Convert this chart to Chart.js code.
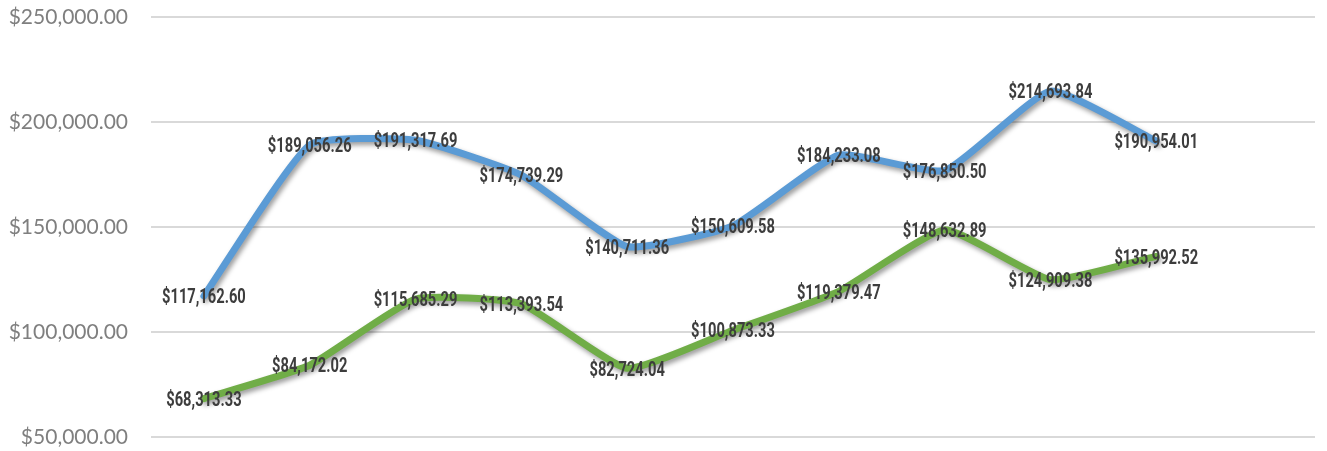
<!DOCTYPE html>
<html>
<head>
<meta charset="utf-8">
<script src="https://cdn.jsdelivr.net/npm/chart.js@4/dist/chart.umd.min.js"></script>
<style>
  html, body { margin: 0; padding: 0; background: #ffffff; }
  #wrap { width: 1327px; height: 451px; }
</style>
</head>
<body>
<div id="wrap"><canvas id="c" width="1327" height="451"></canvas></div>
<script>
// Periods on the horizontal axis (the last slot is left empty)
const periods = ['P1', 'P2', 'P3', 'P4', 'P5', 'P6', 'P7', 'P8', 'P9', 'P10', 'P11'];

// Upper series (blue)
const seriesA = [117162.60, 189056.26, 191317.69, 174739.29, 140711.36, 150609.58, 184233.08, 176850.50, 214693.84, 190954.01, null];

// Lower series (green)
const seriesB = [68313.33, 84172.02, 115685.29, 113393.54, 82724.04, 100873.33, 119379.47, 148632.89, 124909.38, 135992.52, null];

// Value axis ticks
const yTicks = [50000, 100000, 150000, 200000, 250000];

const money = v => '$' + v.toLocaleString('en-US', { minimumFractionDigits: 2, maximumFractionDigits: 2 });

// Soft drop shadow under each line
const lineShadow = {
  id: 'lineShadow',
  beforeDatasetDraw(chart) {
    const ctx = chart.ctx;
    ctx.save();
    ctx.shadowColor = 'rgba(0,0,0,0.4)';
    ctx.shadowBlur = 5;
    ctx.shadowOffsetX = 2;
    ctx.shadowOffsetY = 3;
  },
  afterDatasetDraw(chart) {
    chart.ctx.restore();
  }
};

// Value labels centred on each point, in a narrow face
const valueLabels = {
  id: 'valueLabels',
  afterDatasetsDraw(chart) {
    const ctx = chart.ctx;
    const squeeze = 0.7;
    chart.data.datasets.forEach((ds, i) => {
      const meta = chart.getDatasetMeta(i);
      meta.data.forEach((pt, j) => {
        const v = ds.data[j];
        if (v == null) return;
        ctx.save();
        ctx.font = 'bold 21px Roboto, "DejaVu Sans", sans-serif';
        ctx.fillStyle = '#3d3d3d';
        ctx.textAlign = 'center';
        ctx.textBaseline = 'middle';
        ctx.translate(pt.x, pt.y + 2);
        ctx.scale(squeeze, 1);
        ctx.fillText(money(v), 0, 0);
        ctx.restore();
      });
    });
  }
};

new Chart(document.getElementById('c'), {
  type: 'line',
  data: {
    labels: periods,
    datasets: [
      {
        data: seriesA,
        borderColor: '#5b9bd5',
        borderWidth: 7,
        tension: 0.15,
        pointRadius: 0,
        borderCapStyle: 'round',
        borderJoinStyle: 'round',
        fill: false
      },
      {
        data: seriesB,
        borderColor: '#70ad47',
        borderWidth: 7,
        tension: 0.15,
        pointRadius: 0,
        borderCapStyle: 'round',
        borderJoinStyle: 'round',
        fill: false
      }
    ]
  },
  options: {
    responsive: false,
    animation: false,
    devicePixelRatio: 1,
    layout: { autoPadding: false, padding: { top: 17, right: 12, bottom: 14, left: 7 } },
    plugins: {
      legend: { display: false },
      tooltip: { enabled: false }
    },
    scales: {
      x: {
        display: false,
        offset: true,
        grid: { display: false }
      },
      y: {
        min: 50000,
        max: 250000,
        afterBuildTicks(axis) { axis.ticks = yTicks.map(v => ({ value: v })); },
        afterFit(axis) {
          axis.paddingTop = 0;
          axis.paddingBottom = 0;
          axis.width = 144;
        },
        border: { display: false },
        grid: { color: '#d9d9d9', lineWidth: 2, drawTicks: false },
        ticks: {
          padding: 23,
          color: '#7f7f7f',
          font: { family: 'Lato, "Open Sans", sans-serif', size: 21 },
          callback: v => money(v)
        }
      }
    }
  },
  plugins: [lineShadow, valueLabels]
});
</script>
</body>
</html>
